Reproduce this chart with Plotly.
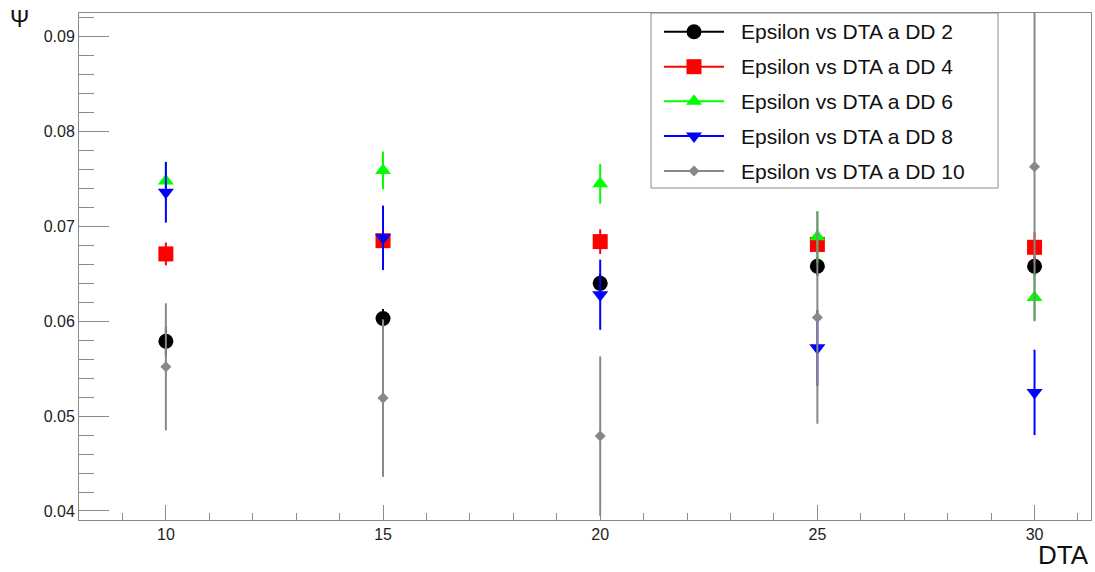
import plotly.graph_objects as go

# DTA values on the x axis
dta = [10, 15, 20, 25, 30]

# Epsilon for each DD setting, with its symmetric error
eps_dd2 = [0.0579, 0.0603, 0.0640, 0.0658, 0.0658]
err_dd2 = [0.0015, 0.0010, 0.0010, 0.0010, 0.0010]

eps_dd4 = [0.0671, 0.0685, 0.0684, 0.0681, 0.0678]
err_dd4 = [0.0012, 0.0010, 0.0013, 0.0010, 0.0016]

eps_dd6 = [0.0748, 0.0759, 0.0745, 0.0689, 0.0625]
err_dd6 = [0.0020, 0.0020, 0.0021, 0.0027, 0.0024]

eps_dd8 = [0.0736, 0.0688, 0.0628, 0.0572, 0.0525]
err_dd8 = [0.0032, 0.0034, 0.0037, 0.0040, 0.0045]

eps_dd10 = [0.0552, 0.0519, 0.0479, 0.0604, 0.0763]
err_dd10 = [0.0067, 0.0083, 0.0084, 0.0112, 0.0163]

legend_labels = [
    "Epsilon vs DTA a DD 2",
    "Epsilon vs DTA a DD 4",
    "Epsilon vs DTA a DD 6",
    "Epsilon vs DTA a DD 8",
    "Epsilon vs DTA a DD 10",
]

W, H = 1095, 572
L, R, T, B = 79, 1091, 13, 520          # frame edges in pixels
FRAME = "#8a8a8a"
FONT = "Liberation Sans, Arial, Helvetica, sans-serif"

series = [
    (eps_dd2, err_dd2, "#000000", "circle", 15),
    (eps_dd4, err_dd4, "#ff0000", "square", 15),
    (eps_dd6, err_dd6, "#00ff00", "triangle-up", 14),
    (eps_dd8, err_dd8, "#0000ff", "triangle-down", 14),
    (eps_dd10, err_dd10, "#888888", "diamond", 8.5),
]

fig = go.Figure()
for (vals, errs, color, symbol, size), name in zip(series, legend_labels):
    fig.add_trace(go.Scatter(
        x=dta, y=vals, name=name, mode="markers",
        marker=dict(color=color, symbol=symbol, size=size, opacity=1, line=dict(width=0)),
        error_y=dict(type="data", array=errs, color=color, thickness=2, width=0),
        showlegend=False,
    ))

# Legend box drawn on a pixel-space overlay axis
leg_x0, leg_x1, leg_y0, leg_y1 = 651, 998, 13, 188
row_y = [31.7, 66.7, 101.3, 136.0, 171.0]
sym_x0, sym_x1, sym_xm, text_x = 664, 724, 694, 739

fig.add_trace(go.Scatter(
    x=[sym_xm] * len(series), y=row_y, mode="markers",
    xaxis="x2", yaxis="y2", cliponaxis=False, showlegend=False, hoverinfo="skip",
    marker=dict(color=[s[2] for s in series], symbol=[s[3] for s in series],
                size=[s[4] for s in series], opacity=1, line=dict(width=0)),
))

shapes = [dict(type="rect", xref="x2", yref="y2", x0=leg_x0, x1=leg_x1, y0=leg_y0, y1=leg_y1,
               line=dict(color=FRAME, width=1), fillcolor="white", layer="below")]
annotations = []
for (vals, errs, color, symbol, size), label, yy in zip(series, legend_labels, row_y):
    shapes.append(dict(type="line", xref="x2", yref="y2", x0=sym_x0, x1=sym_x1, y0=yy, y1=yy,
                       line=dict(color=color, width=2), layer="below"))
    annotations.append(dict(xref="x2", yref="y2", x=text_x, y=yy, text=label, showarrow=False,
                            xanchor="left", yanchor="middle",
                            font=dict(family=FONT, size=21, color="#111111")))

# Axis titles
annotations.append(dict(xref="paper", yref="paper", x=(1091 - L) / (R - L), y=(B - 572) / (B - T),
                        text="DTA", showarrow=False, xanchor="right", yanchor="bottom",
                        font=dict(family=FONT, size=26, color="#111111")))
annotations.append(dict(xref="paper", yref="paper", x=(19 - L) / (R - L), y=(B - 19) / (B - T),
                        text="Ψ", showarrow=False, xanchor="center", yanchor="middle",
                        font=dict(family=FONT, size=23, color="#111111")))

axis_common = dict(showgrid=False, zeroline=False, showline=True, mirror=True,
                   linecolor=FRAME, linewidth=1, ticks="inside", tickcolor=FRAME, tickwidth=1,
                   tickfont=dict(family=FONT, size=16, color="#222222"))

fig.update_layout(
    width=W, height=H,
    margin=dict(l=L, r=W - R, t=T, b=H - B),
    paper_bgcolor="white", plot_bgcolor="white",
    xaxis=dict(range=[8.0, 31.3], tickmode="linear", tick0=10, dtick=5, ticklen=15,
               minor=dict(ticks="inside", tick0=10, dtick=1, ticklen=7.5, tickcolor=FRAME),
               **axis_common),
    yaxis=dict(range=[0.03905, 0.0925], tickmode="linear", tick0=0.04, dtick=0.01,
               tickformat=".2f", ticklen=30,
               minor=dict(ticks="inside", tick0=0.04, dtick=0.002, ticklen=15, tickcolor=FRAME),
               **axis_common),
    xaxis2=dict(overlaying="x", range=[L, R], visible=False, fixedrange=True),
    yaxis2=dict(overlaying="y", range=[B, T], visible=False, fixedrange=True),
    shapes=shapes,
    annotations=annotations,
)

fig.write_html("out.html")
